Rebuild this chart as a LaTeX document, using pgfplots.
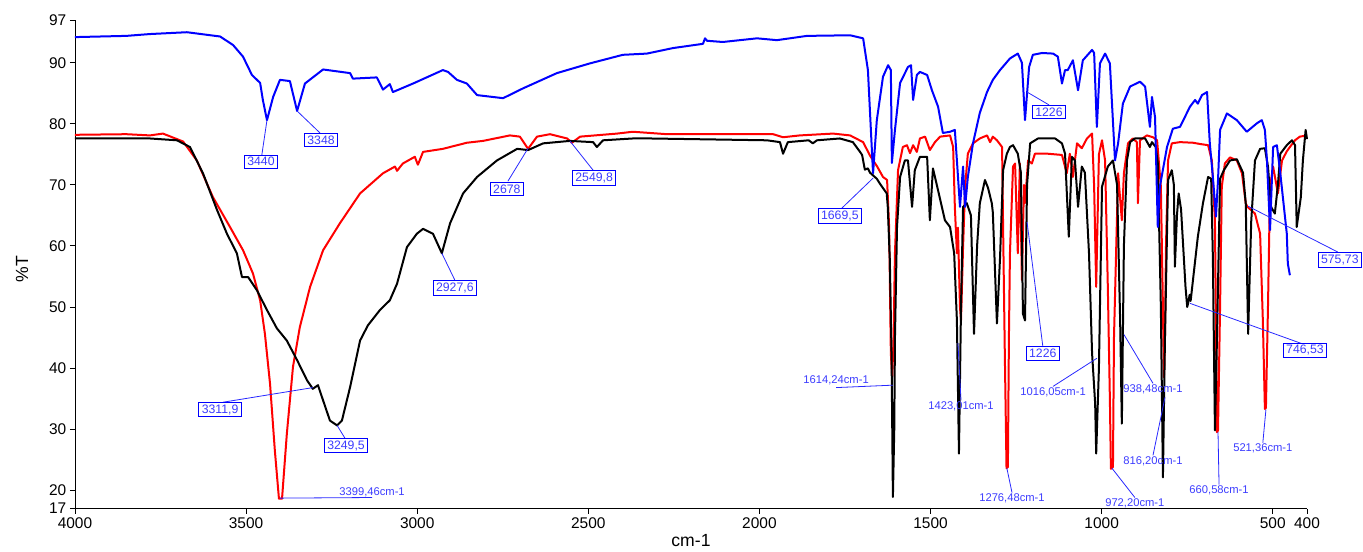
\documentclass[border=0pt]{standalone}
\usepackage{fontspec}
\setmainfont{Liberation Sans}
\usepackage{pgfplots}
\pgfplotsset{compat=1.18}
\newlength\px \setlength\px{0.75pt}
\definecolor{sblue}{RGB}{0,0,255}
\definecolor{sred}{RGB}{255,0,0}
\definecolor{lbl}{RGB}{60,60,255}
\definecolor{lline}{RGB}{40,40,255}
\newcommand\boxf{\fontsize{9.2}{10}\selectfont}
\newcommand\cmf{\fontsize{8.4}{9.5}\selectfont}
\begin{document}
\begin{tikzpicture}
\begin{axis}[name=ax, at={(0,0)}, anchor=south west,
 width=1232\px, height=488.5\px, scale only axis,
 x dir=reverse, xmin=400, xmax=4000, ymin=17, ymax=97,
 axis x line*=bottom, axis y line*=left,
 axis line style={-, line width=0.9\px},
 xtick={4000,3500,3000,2500,2000,1500,1000,500,400},
 ytick={17,20,30,40,50,60,70,80,90,97},
 tick align=outside, major tick length=5\px,
 tick style={black, line width=0.9\px},
 /pgf/number format/assume math mode=true,
 /pgf/number format/1000 sep={},
 ticklabel style={font=\fontsize{11.6}{13}\selectfont},
 xticklabel style={yshift=1\px},
 yticklabel style={xshift=1\px},
 xlabel={cm-1}, ylabel={\%T},
 label style={font=\fontsize{13.2}{15}\selectfont},
 xlabel style={at={(axis description cs:0.5,-0.0665)}, anchor=center},
 ylabel style={at={(axis description cs:-0.043,0.49)}, anchor=center},
 clip=false,
 every axis plot/.append style={line width=1.5pt, line join=round},
]
% red spectrum
\addplot[sred] coordinates {
(4000,78.2)(3850,78.3)(3781,78.1)(3743,78.4)(3684,77.1)(3644,74.0)(3597,68.0)(3547,63.1)
(3509,59.3)(3480,55.5)(3459,51.1)(3445,45.6)(3430,37.4)(3416,26.5)(3404,18.6)(3395,18.6)
(3381,29.2)(3363,40.2)(3343,46.7)(3313,53.3)(3275,59.3)(3226,63.7)(3167,68.6)(3100,71.9)
(3065,73.0)(3059,72.3)(3042,73.5)(3007,74.6)(2998,73.3)(2983,75.4)(2925,75.9)(2855,76.9)
(2808,77.2)(2729,78.1)(2700,77.9)(2676,75.9)(2650,77.9)(2612,78.3)(2562,77.6)(2548,76.9)
(2524,77.9)(2416,78.4)(2370,78.7)(2270,78.3)(1960,78.3)(1931,77.8)(1882,78.1)(1785,78.4)
(1735,78.1)(1697,77.0)(1677,74.8)(1656,73.0)(1639,71.3)(1627,70.8)(1621,63.1)(1616,42.4)
(1612,38.5)(1608,45)(1604,58.8)(1595,72.4)(1581,76.2)(1569,76.5)(1560,75.2)(1551,76.5)
(1540,75.4)(1531,77.6)(1516,77.9)(1502,75.7)(1487,77.0)(1472,77.9)(1443,78.1)(1434,76.2)
(1429,66.4)(1423,58.8)(1420,63)(1414,50)(1411,47.8)(1405,59.8)(1399,69.7)(1391,75.1)
(1376,76.8)(1356,77.6)(1335,78.1)(1326,77.0)(1318,77.9)(1306,77.3)(1291,76.2)(1288,63.1)
(1283,42.4)(1278,23.6)(1274,23.8)(1271,45)(1268,58.8)(1259,73.0)(1253,73.5)(1245,58.8)
(1239,73.5)(1233,54.4)(1227,70)(1224,67.0)(1215,74.0)(1204,73.5)(1195,75.1)(1157,75.1)
(1116,74.9)(1102,71.9)(1093,75.1)(1084,71.3)(1072,76.8)(1058,76.0)(1043,77.6)(1028,78.4)
(1022,69.7)(1016,53.3)(1008,75)(999,77.3)(990,74)(982,53.3)(976,35)(973,23.5)(967,23.8)
(964,45)(952,71.9)(941,64.2)(935,71.9)(923,76.8)(909,77.6)(897,77.0)(894,67.0)(888,77.3)
(868,78.1)(850,77.8)(838,77.3)(827,69.7)(821,50)(818,38.5)(815,45)(812,60)(806,74.0)
(795,76.8)(771,77.0)(733,76.9)(713,76.7)(689,76.5)(678,74.0)(669,64.2)(663,29.5)(660,29.8)
(654,50)(649,69.7)(640,73.5)(625,74.5)(605,74.0)(590,71.9)(579,67.0)(574,66.4)(552,65.3)
(537,62.0)(529,47.8)(523,33.3)(520,33.5)(514,50)(508,69.7)(499,73.0)(485,68.6)(473,74.0)
(459,75.5)(450,76.2)(435,77.3)(421,77.9)(400,78.1)
};
% black spectrum
\addplot[black] coordinates {
(4000,77.6)(3781,77.6)(3702,77.3)(3664,76.2)(3626,71.9)(3585,65.9)(3556,62.0)(3527,58.8)
(3512,54.9)(3494,54.9)(3468,52.7)(3439,49.5)(3410,46.5)(3381,44.5)(3351,41.3)(3322,38.0)
(3305,36.6)(3290,37.2)(3275,34.7)(3255,31.4)(3234,30.6)(3220,31.4)(3196,36.9)(3167,44.5)
(3144,47.0)(3109,49.5)(3080,51.1)(3059,53.8)(3030,59.8)(3001,62.0)(2983,62.8)(2954,62.0)
(2928,58.8)(2904,63.7)(2866,68.6)(2825,71.3)(2767,74.0)(2708,75.9)(2676,75.7)(2632,76.8)
(2554,77.2)(2486,77.0)(2475,76.2)(2457,77.3)(2370,77.6)(2320,77.6)(1978,77.3)(1940,77.0)
(1931,75.1)(1917,77.0)(1856,77.3)(1844,76.8)(1832,77.3)(1765,77.6)(1727,77.0)(1706,75.4)
(1700,74.9)(1692,72.5)(1683,72.7)(1677,72.0)(1657,71.0)(1648,70.2)(1628,68.6)(1625,66.4)
(1619,57.7)(1614,42.4)(1610,18.9)(1606,30)(1604,45)(1598,63.1)(1589,71.3)(1575,74.0)
(1566,74.0)(1554,66.4)(1546,72.4)(1531,74.6)(1510,74.6)(1502,64.2)(1493,72.7)(1478,69.1)
(1458,64.2)(1443,63.1)(1431,58.8)(1423,47.8)(1417,26.0)(1411,50)(1405,66.4)(1394,67.0)
(1382,65.0)(1373,45.6)(1364,60)(1356,67.0)(1341,70.8)(1332,69.5)(1321,67)(1318,65.5)
(1306,47.3)(1297,58)(1288,72.4)(1277,75.1)(1268,76.2)(1259,76.5)(1245,75.1)(1236,72.0)
(1230,48.9)(1224,47.8)(1218,70)(1209,76.8)(1186,77.6)(1136,77.6)(1116,76.8)(1107,75.1)
(1096,61.5)(1087,74.6)(1078,74.0)(1069,66.4)(1058,73.0)(1049,72.0)(1037,58.8)(1028,42.4)
(1019,34.2)(1016,26.0)(1008,40)(999,69.7)(982,73.0)(967,74.0)(955,70)(946,47.8)(941,30.9)
(935,60)(926,74.0)(917,77.0)(903,77.6)(873,77.6)(859,76.2)(853,77.0)(842,76.2)(836,73.6)
(827,50)(821,22.1)(815,45)(806,70.8)(795,72.4)(789,70)(786,56.6)(780,65)(775,68.6)
(768,66)(755,53.3)(750,50.0)(746,51)(743,52)(740,51)(719,61.5)(704,67.0)(689,71.3)
(680,71.0)(675,58)(669,29.8)(663,45)(654,71)(643,72.4)(625,74.0)(605,74.2)(587,72.0)
(579,67)(572,45.6)(563,64)(552,74.0)(537,75.9)(523,76.0)(514,73)(505,66.4)(494,65.3)
(485,70)(478,75.1)(459,76.5)(444,77.3)(435,76.5)(430,63.1)(418,68)(412,74)(404,79.0)(400,77.5)
};
% blue spectrum
\addplot[sblue] coordinates {
(4000,94.2)(3850,94.4)(3781,94.7)(3673,95.0)(3576,94.3)(3538,92.9)(3509,91.0)(3483,88.0)
(3459,86.7)(3451,83.9)(3439,80.6)(3421,84.4)(3401,87.2)(3372,87.0)(3351,82.1)(3328,86.6)
(3275,88.9)(3196,88.3)(3188,87.4)(3118,87.6)(3100,85.6)(3080,86.5)(3071,85.2)(3012,86.6)
(2925,88.8)(2910,88.5)(2884,87.2)(2855,86.6)(2825,84.7)(2749,84.2)(2691,85.8)(2592,88.3)
(2495,89.9)(2399,91.3)(2329,91.5)(2253,92.4)(2165,93.1)(2159,94.0)(2153,93.6)(2107,93.4)
(2007,94.0)(1949,93.7)(1861,94.4)(1735,94.5)(1697,94.0)(1683,88.8)(1671,75.2)(1668,71.9)
(1657,80.6)(1639,87.7)(1624,89.6)(1616,88.8)(1613,73.6)(1604,79.0)(1589,86.7)(1566,89.3)
(1557,89.6)(1551,83.9)(1540,88.0)(1531,88.5)(1510,88.0)(1496,85.5)(1478,82.8)(1464,78.5)
(1443,78.7)(1429,79.0)(1423,74.0)(1414,66.4)(1405,73.0)(1399,66.4)(1391,71.3)(1376,76.8)
(1356,81.8)(1335,85.2)(1318,87.2)(1297,88.8)(1268,90.7)(1245,91.5)(1233,90.0)(1224,80.6)
(1212,89.3)(1201,91.3)(1174,91.6)(1142,91.5)(1128,91.0)(1116,86.6)(1107,88.8)(1099,88.8)
(1084,90.4)(1069,85.5)(1055,90.4)(1028,92.1)(1022,91.6)(1014,79.5)(1005,89.9)(990,91.5)
(976,89.9)(961,74.0)(952,76.8)(938,83.3)(917,86.1)(888,86.9)(873,86.1)(859,79.5)(853,84.4)
(844,81.1)(836,63.1)(830,69.7)(809,76.2)(792,79.2)(771,79.5)(742,82.8)(727,83.9)(719,83.3)
(707,84.7)(692,85.2)(684,76.8)(675,71.3)(666,64.8)(660,70.8)(654,79.0)(634,81.7)(605,80.6)
(576,78.7)(546,80.1)(532,80.6)(523,79.0)(517,74.0)(508,62.6)(499,76.2)(488,76.5)(479,72.4)
(459,62.0)(456,57.1)(450,55.2)
};
% leader lines
\begin{scope}[lline, line width=0.8\px]
\draw (axis cs:3439,80.6) -- (axis cs:3454,74.9);
\draw (axis cs:3351,82.1) -- (axis cs:3284,78.5);
\draw (axis cs:3305,36.8) -- (axis cs:3568,34.4);
\draw (axis cs:3234,30.6) -- (axis cs:3211,28.5);
\draw (axis cs:3401,18.7) -- (axis cs:3132,18.8);
\draw (axis cs:2928,58.8) -- (axis cs:2890,54.4);
\draw (axis cs:2676,76.0) -- (axis cs:2735,70.6);
\draw (axis cs:2554,77.2) -- (axis cs:2486,72.4);
\draw (axis cs:1668,71.1) -- (axis cs:1759,66.2);
\draw (axis cs:1218,85.2) -- (axis cs:1154,83.1);
\draw (axis cs:1218,63.9) -- (axis cs:1172,43.6);
\draw (axis cs:572,66.5) -- (axis cs:310,59.0);
\draw (axis cs:742,50.6) -- (axis cs:415,44.0);
\draw (axis cs:1610,37.2) -- (axis cs:1776,36.8);
\draw (axis cs:1420,44.1) -- (axis cs:1411,34.7);
\draw (axis cs:1277,23.6) -- (axis cs:1262,19.6);
\draw (axis cs:1014,41.6) -- (axis cs:1142,37.0);
\draw (axis cs:935,45.5) -- (axis cs:850,37.5);
\draw (axis cs:815,35.2) -- (axis cs:850,25.7);
\draw (axis cs:970,23.6) -- (axis cs:903,18.8);
\draw (axis cs:660,29.5) -- (axis cs:657,20.9);
\draw (axis cs:520,33.2) -- (axis cs:529,27.8);
\end{scope}
% boxed labels
\begin{scope}[every node/.style={draw=sblue, text=lbl, font=\boxf, line width=0.9\px,
  inner xsep=3\px, inner ysep=2.2\px, anchor=center}]
\node at (axis cs:3456.5,73.8) {3440};
\node at (axis cs:3281,77.3) {3348};
\node at (axis cs:3576,33.2) {3311,9};
\node at (axis cs:3208,27.3) {3249,5};
\node at (axis cs:2890,53.1) {2927,6};
\node at (axis cs:2738,69.3) {2678};
\node at (axis cs:2483,71.1) {2549,8};
\node at (axis cs:1765,64.9) {1669,5};
\node at (axis cs:1154,81.9) {1226};
\node at (axis cs:1172,42.4) {1226};
\node at (axis cs:304,57.7) {575,73};
\node at (axis cs:406,42.9) {746,53};
\end{scope}
% plain labels
\begin{scope}[every node/.style={text=lbl, font=\cmf, inner sep=0.8\px}]
\node[anchor=base] at (axis cs:3132,19.2) {3399,46cm-1};
\node[anchor=base] at (axis cs:1776,37.5) {1614,24cm-1};
\node[anchor=north] at (axis cs:1411,34.7) {1423,01cm-1};
\node[anchor=north] at (axis cs:1262,19.6) {1276,48cm-1};
\node[anchor=north] at (axis cs:1142,37.0) {1016,05cm-1};
\node[anchor=north] at (axis cs:850,37.5) {938,48cm-1};
\node[anchor=north] at (axis cs:850,25.7) {816,20cm-1};
\node[anchor=north] at (axis cs:903,18.8) {972,20cm-1};
\node[anchor=north] at (axis cs:657,20.9) {660,58cm-1};
\node[anchor=north] at (axis cs:529,27.8) {521,36cm-1};
\end{scope}
\end{axis}
\pgfresetboundingbox
\useasboundingbox (-75\px,-42.5\px) rectangle (1288\px,508.5\px);
\end{tikzpicture}
\end{document}
